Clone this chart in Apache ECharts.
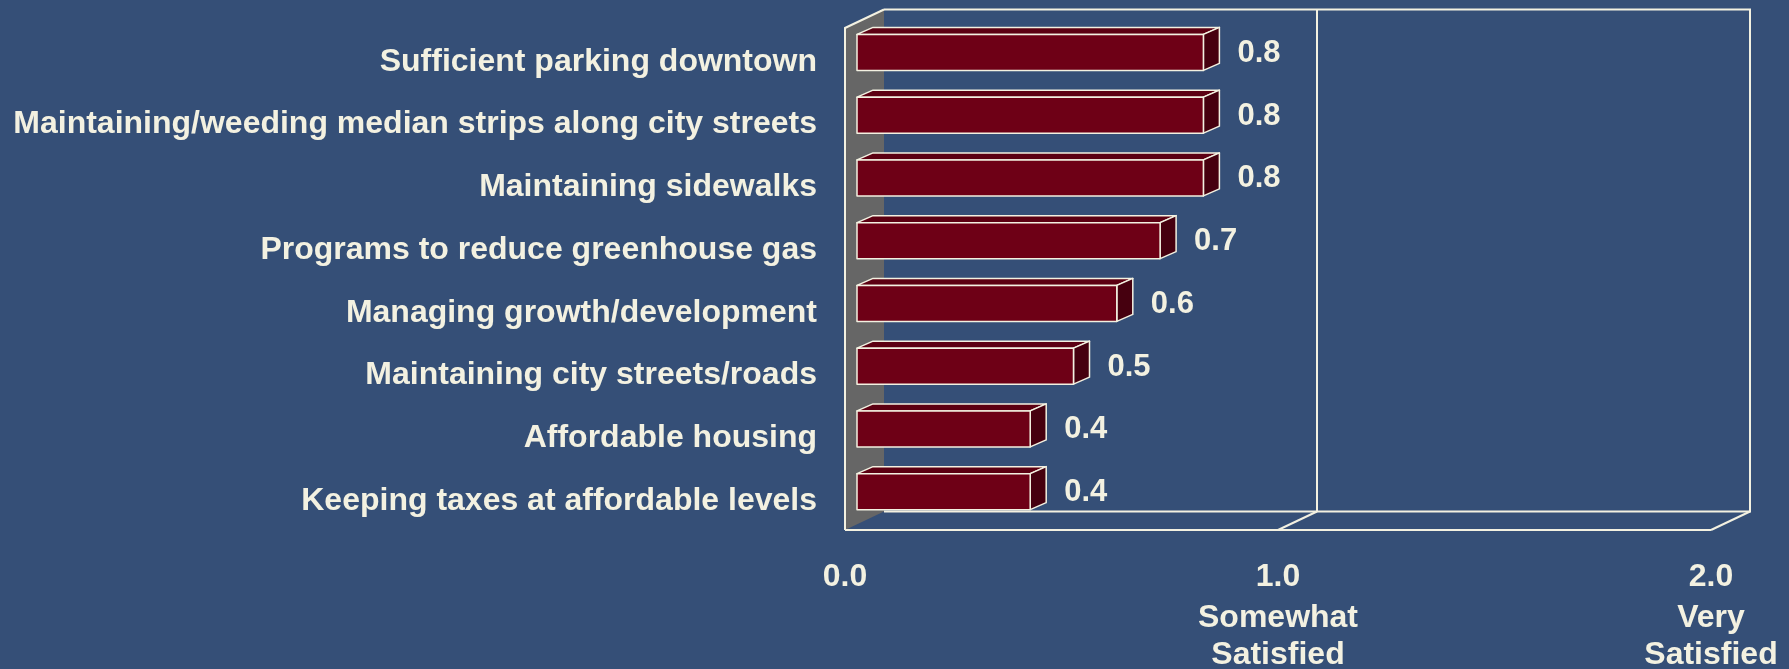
<!DOCTYPE html>
<html>
<head>
<meta charset="utf-8">
<script src="https://cdn.jsdelivr.net/npm/echarts@6/dist/echarts.min.js"></script>
<style>
  html, body { margin: 0; padding: 0; background: #354F77; }
  #chart { width: 1789px; height: 669px; }
</style>
</head>
<body>
<div id="chart"></div>
<script>
// categories, top to bottom
const categories = [
  'Sufficient parking downtown',
  'Maintaining/weeding median strips along city streets',
  'Maintaining sidewalks',
  'Programs to reduce greenhouse gas',
  'Managing growth/development',
  'Maintaining city streets/roads',
  'Affordable housing',
  'Keeping taxes at affordable levels'
];
// mean satisfaction score
const scores = [0.8, 0.8, 0.8, 0.7, 0.6, 0.5, 0.4, 0.4];
// x axis tick labels
const tickLabels = ['0.0', '1.0\nSomewhat\nSatisfied', '2.0\nVery\nSatisfied'];

const CREAM = '#F3F1E1';
const FONT = "'Liberation Sans', Arial, sans-serif";
const DEPTH = [39, -18.5];   // wall depth
const BAR_DEPTH = [16, -7];  // bar depth

const chart = echarts.init(document.getElementById('chart'));

function renderFrame(params, api) {
  const cs = params.coordSys;
  const x0 = cs.x, y0 = cs.y, x2 = cs.x + cs.width, yb = cs.y + cs.height;
  const x1 = api.coord([1, 0])[0];
  const line = (pts) => ({
    type: 'polyline',
    shape: { points: pts },
    style: { stroke: CREAM, lineWidth: 2, fill: null }
  });
  const dx = DEPTH[0], dy = DEPTH[1];
  return {
    type: 'group',
    children: [
      // side wall
      {
        type: 'polygon',
        shape: { points: [[x0, y0], [x0 + dx, y0 + dy], [x0 + dx, yb + dy], [x0, yb]] },
        style: { fill: '#666666' }
      },
      line([[x0, yb], [x0, y0], [x0 + dx, y0 + dy]]),
      // back wall
      line([[x0 + dx, y0 + dy], [x2 + dx, y0 + dy], [x2 + dx, yb + dy], [x0 + dx, yb + dy]]),
      line([[x1 + dx, y0 + dy], [x1 + dx, yb + dy]]),
      // floor
      line([[x0, yb], [x2, yb]]),
      line([[x1, yb], [x1 + dx, yb + dy]]),
      line([[x2, yb], [x2 + dx, yb + dy]])
    ]
  };
}

function renderBar(params, api) {
  const idx = api.value(1);
  const start = api.coord([0, idx]);
  const end = api.coord([api.value(0), idx]);
  const cy = start[1];
  const xa = start[0] + 12, xb = end[0] + 12;
  const ya = cy - 25, yb = cy + 11;
  const bx = BAR_DEPTH[0], by = BAR_DEPTH[1];
  const edge = { stroke: CREAM, lineWidth: 1.5, lineJoin: 'round' };
  return {
    type: 'group',
    children: [
      {
        type: 'polygon',
        shape: { points: [[xa, ya], [xa + bx, ya + by], [xb + bx, ya + by], [xb, ya]] },
        style: Object.assign({ fill: '#5C0012' }, edge)
      },
      {
        type: 'polygon',
        shape: { points: [[xb, ya], [xb + bx, ya + by], [xb + bx, yb + by], [xb, yb]] },
        style: Object.assign({ fill: '#46000F' }, edge)
      },
      {
        type: 'rect',
        shape: { x: xa, y: ya, width: xb - xa, height: yb - ya },
        style: Object.assign({ fill: '#6E0016' }, edge)
      },
      {
        type: 'text',
        x: xb + 34,
        y: cy - 6,
        style: {
          text: api.value(0).toFixed(1),
          fill: CREAM,
          font: 'bold 31px ' + FONT,
          verticalAlign: 'middle',
          align: 'left'
        }
      }
    ]
  };
}

const labelText = { color: CREAM, fontFamily: FONT, fontWeight: 'bold', fontSize: 32 };

const option = {
  backgroundColor: '#354F77',
  animation: false,
  grid: { left: 845, width: 866, top: 28, height: 502, outerBoundsMode: 'none', containLabel: false },
  xAxis: {
    type: 'value',
    min: 0,
    max: 2,
    interval: 1,
    axisLine: { show: false },
    axisTick: { show: false },
    splitLine: { show: false },
    axisLabel: {
      margin: 24,
      formatter: (v) => tickLabels[Math.round(v)].split('\n')
        .map((s, i) => (i === 0 ? '{a|' : '{b|') + s + '}').join('\n'),
      rich: {
        a: Object.assign({ lineHeight: 46 }, labelText),
        b: Object.assign({ lineHeight: 37 }, labelText)
      }
    }
  },
  yAxis: {
    type: 'category',
    data: categories,
    inverse: true,
    axisLine: { show: false },
    axisTick: { show: false },
    splitLine: { show: false },
    axisLabel: {
      margin: 28,
      formatter: (v) => '{c|' + v + '}',
      rich: {
        c: Object.assign({ padding: [5, 0, 0, 0] }, labelText)
      }
    }
  },
  series: [
    {
      type: 'custom',
      z: 1,
      renderItem: renderFrame,
      data: [[0, 0]],
      silent: true
    },
    {
      type: 'custom',
      z: 2,
      renderItem: renderBar,
      encode: { x: 0, y: 1 },
      data: scores.map((v, i) => [v, i])
    }
  ]
};

chart.setOption(option);
</script>
</body>
</html>
